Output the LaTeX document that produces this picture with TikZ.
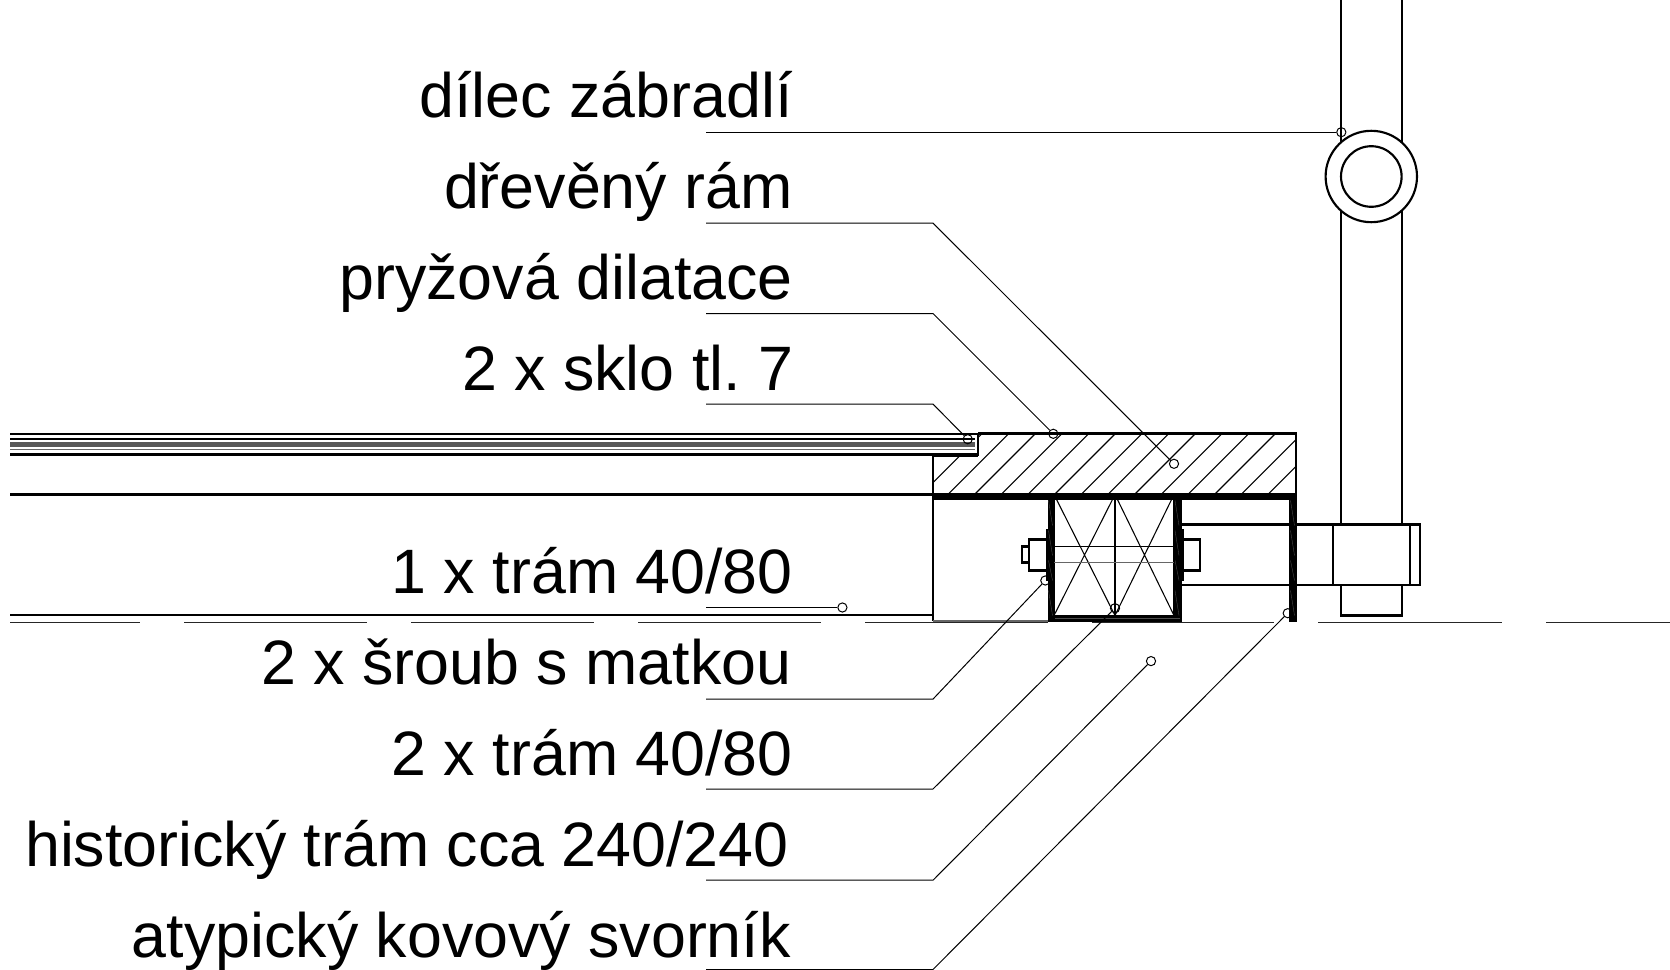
\documentclass[tikz,border=0pt]{standalone}
\usepackage{fontspec}
\setmainfont{Liberation Sans}
\frenchspacing
\tikzset{
  x=0.75pt,y=-0.75pt,
  lab/.style={anchor=base east,inner sep=0pt,font=\fontsize{47.05}{54}\selectfont},
  thin1/.style={line width=0.8pt,black},
  lead/.style={line width=0.75pt,black},
  mid/.style={line width=1.6pt,black},
  med/.style={line width=1pt,black},
  dot/.style={circle,draw=black,line width=0.75pt,minimum size=6.9pt,inner sep=0pt},
  steel/.style={fill=black,draw=none},
  slash/.style={draw=black!70,line width=0.3pt},
}
\begin{document}
\begin{tikzpicture}
\useasboundingbox (0,0) rectangle (1670,970);
\begin{scope}[shift={(0,0.5)}]
% hatch of the wooden frame
\begin{scope}
\clip (933,456) -- (978,456) -- (978,433) -- (1296,433) -- (1296,494) -- (933,494) -- cycle;
\foreach \k in {-2,...,16}{
  \draw[lead,line width=0.85pt] ({948.3+26.67*\k},493.5) -- ++(100,-100);
}
\end{scope}
% glass
\draw[line width=2.2pt] (10,433.5) -- (978,433.5);
\draw[line width=0.9pt] (10,438.5) -- (975,438.5);
\draw[line width=3.2pt,black!65] (10,444) -- (975,444);
\draw[line width=1pt,black!60] (10,449) -- (975,449);
\draw[line width=2.2pt] (10,454) -- (978,454);
\draw[line width=2.2pt] (978,433) -- (978,455);
% lines of the frame
\draw[mid] (10,494) -- (1296,494);
\draw[mid] (978,433) -- (1296,433) -- (1296,494);
\draw[mid] (933,455) -- (933,620.5);
\draw[mid] (933,455) -- (978,455);
\draw[mid] (10,614.7) -- (933,614.7);
\draw[line width=1.1pt,black!60] (933,620.5) -- (1048,620.5);
% datum line
\foreach \a/\b in {10/140,184/367,411/594,638/821,865/1048,1092/1274,1318/1502,1546/1670}{
  \draw[line width=0.95pt,black!85] (\a,622) -- (\b,622);
}
% timber
\draw[med] (1054,494) rectangle (1174,615);
\draw[mid] (1115,494) -- (1115,615);
\draw[thin1] (1054,494) -- (1115,615) (1115,494) -- (1054,615)
             (1115,494) -- (1174,615) (1174,494) -- (1115,615);
% bolt
\draw[thin1] (1054,546) -- (1174,546);
\draw[thin1,black!60] (1054,562) -- (1174,562);
% post and tube
\draw[mid] (1341.3,0) -- (1341.3,615) -- (1401.7,615) -- (1401.7,0);
\draw[mid,fill=white] (1371.3,176) circle (45.7);
\draw[mid] (1371.3,176) circle (30.3);
\draw[mid,fill=white] (1181,524) rectangle (1420,584.3);
\draw[mid] (1332.7,524) -- (1332.7,584.3);
\draw[mid] (1410,524) -- (1410,584.3);
% nuts
\draw[mid] (1047,539) -- (1029,539) -- (1029,570) -- (1047,570);
\draw[mid] (1029,546) -- (1022,546) -- (1022,562) -- (1029,562);
\draw[mid] (1183,539) -- (1200,539) -- (1200,570) -- (1183,570);
% steel clamp
\fill[steel] (933,494) rectangle (1296.7,499.5);
\fill[steel] (1047.7,494) rectangle (1054.3,621);
\fill[steel] (1048,615) rectangle (1181.7,621);
\fill[steel] (1174,494) rectangle (1181.7,621);
\fill[steel] (1289.3,494) rectangle (1296.7,621);
\fill[steel] (1045.7,528) rectangle (1048,580);
\fill[steel] (1181.7,528) rectangle (1184,580);
% fine lines on the steel
\foreach \x in {1048.5,1175,1290.5}{
  \draw[slash] (\x,500) -- ++(4,25) (\x,530) -- ++(4,25) (\x,560) -- ++(4,20) (\x,590) -- ++(4,25);
}
\draw[slash] (1055,618) -- (1180,618);
% labels
\node[lab] (t1) at (793,116.7) {dílec zábradlí};
\node[lab] (t2) at (793,208.4) {dřevěný rám};
\node[lab] (t3) at (793,298.7) {pryžová dilatace};
\node[lab] (t4) at (793.5,389.7) {2 x sklo tl. 7};
\node[lab] (t5) at (793,593) {1 x trám 40/80};
\node[lab] (t6) at (791.5,684) {2 x šroub s matkou};
\node[lab] (t7) at (793,775) {2 x trám 40/80};
\node[lab] (t8) at (789,866) {historický trám cca 240/240};
\node[lab] (t9) at (791,956.5) {atypický kovový svorník};
% leader ends
\node[dot] (c1) at (1341.3,131.7) {};
\node[dot] (c2) at (1174,463.3) {};
\node[dot] (c3) at (1053.3,433.3) {};
\node[dot] (c4) at (967.7,438.7) {};
\node[dot] (c5) at (842.4,607) {};
\node[dot] (c6) at (1045.3,580) {};
\node[dot] (c7) at (1115,607.7) {};
\node[dot] (c8) at (1151,660.6) {};
\node[dot] (c9) at (1287.7,612.7) {};
% leader starts and elbows
\coordinate (s1) at (706,131.7);
\coordinate (s2) at (706,222.6); \coordinate (e2) at (933,222.6);
\coordinate (s3) at (706,313);   \coordinate (e3) at (933,313);
\coordinate (s4) at (706,403.6); \coordinate (e4) at (933,403.6);
\coordinate (s5) at (706,607);
\coordinate (s6) at (706,698.6); \coordinate (e6) at (933,698.6);
\coordinate (s7) at (706,788.5); \coordinate (e7) at (933,788.5);
\coordinate (s8) at (706,879.7); \coordinate (e8) at (933,879.7);
\coordinate (s9) at (706,969); \coordinate (e9) at (933,969);
\draw[lead] (s1) -- (c1);
\draw[lead] (s2) -- (e2) -- (c2);
\draw[lead] (s3) -- (e3) -- (c3);
\draw[lead] (s4) -- (e4) -- (c4);
\draw[lead] (s5) -- (c5);
\draw[lead] (s6) -- (e6) -- (c6);
\draw[lead] (s7) -- (e7) -- (c7);
\draw[lead] (s8) -- (e8) -- (c8);
\draw[lead] (s9) -- (e9) -- (c9);
\end{scope}
\end{tikzpicture}
\end{document}
